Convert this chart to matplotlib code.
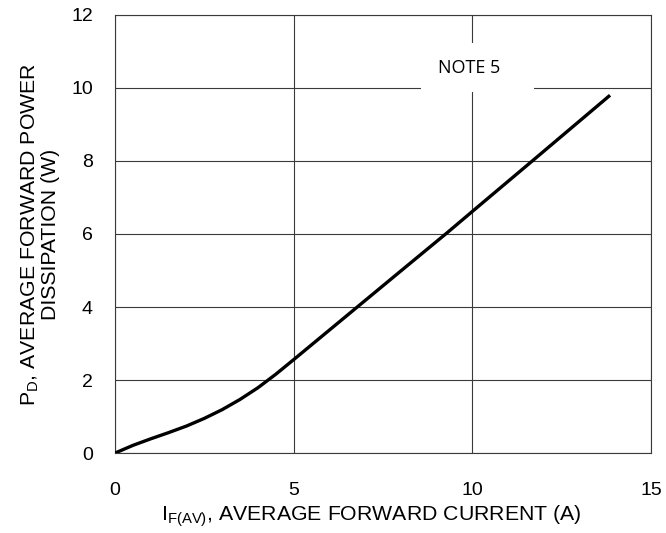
import matplotlib
matplotlib.use('Agg')
import matplotlib.pyplot as plt
from matplotlib.patches import Rectangle

# forward current (A) vs power dissipation (W)
i_f = [0, 0.5, 1.0, 1.5, 2.0, 2.5, 3.0, 3.5, 4.0, 4.5, 5.0, 6.0, 7.0, 8.0, 9.3, 10.0, 11.65, 13.85]
p_d = [0, 0.21, 0.39, 0.56, 0.74, 0.95, 1.19, 1.47, 1.79, 2.16, 2.56, 3.37, 4.18, 4.99, 6.04, 6.62, 7.98, 9.8]

x_ticks = [0, 5, 10, 15]
y_ticks = [0, 2, 4, 6, 8, 10, 12]
note_text = 'NOTE 5'

plt.rcParams['font.family'] = ['Liberation Sans', 'DejaVu Sans']
plt.rcParams['mathtext.fontset'] = 'custom'
plt.rcParams['mathtext.rm'] = 'Liberation Sans'

fig = plt.figure(figsize=(6.66, 5.33), dpi=100)
ax = fig.add_axes([0.1727, 0.150, 0.805, 0.822])

ax.plot(i_f, p_d, color='k', linewidth=2.4, solid_capstyle='butt', zorder=4)

ax.set_xlim(0, 15)
ax.set_ylim(0, 12)
ax.set_xticks(x_ticks)
ax.set_yticks(y_ticks)
ax.tick_params(length=0, labelsize=14)
ax.tick_params(axis='x', pad=21)
ax.tick_params(axis='y', pad=16)
ax.grid(True, color='#3a3a3a', linewidth=0.8, zorder=1)
ax.set_axisbelow(True)
for s in ax.spines.values():
    s.set_color('#3a3a3a')
    s.set_linewidth(0.8)

# white box behind the note, cutting the grid
ax.add_patch(Rectangle((8.57, 9.89), 3.14, 1.34, facecolor='white',
                       edgecolor='none', zorder=2))
ax.text(9.92, 10.55, note_text, ha='center', va='center', fontsize=13,
        family=['Open Sans', 'DejaVu Sans'], zorder=3)

ax.set_xlabel(r'I$_\mathregular{F(AV)}$, AVERAGE FORWARD CURRENT (A)', fontsize=15.3,
              labelpad=3, x=0.478)
ax.set_ylabel('P$_\\mathregular{D}$, AVERAGE FORWARD POWER\nDISSIPATION (W)',
              fontsize=15.3, labelpad=8, linespacing=1.0)

fig.savefig('out.png', dpi=100)
